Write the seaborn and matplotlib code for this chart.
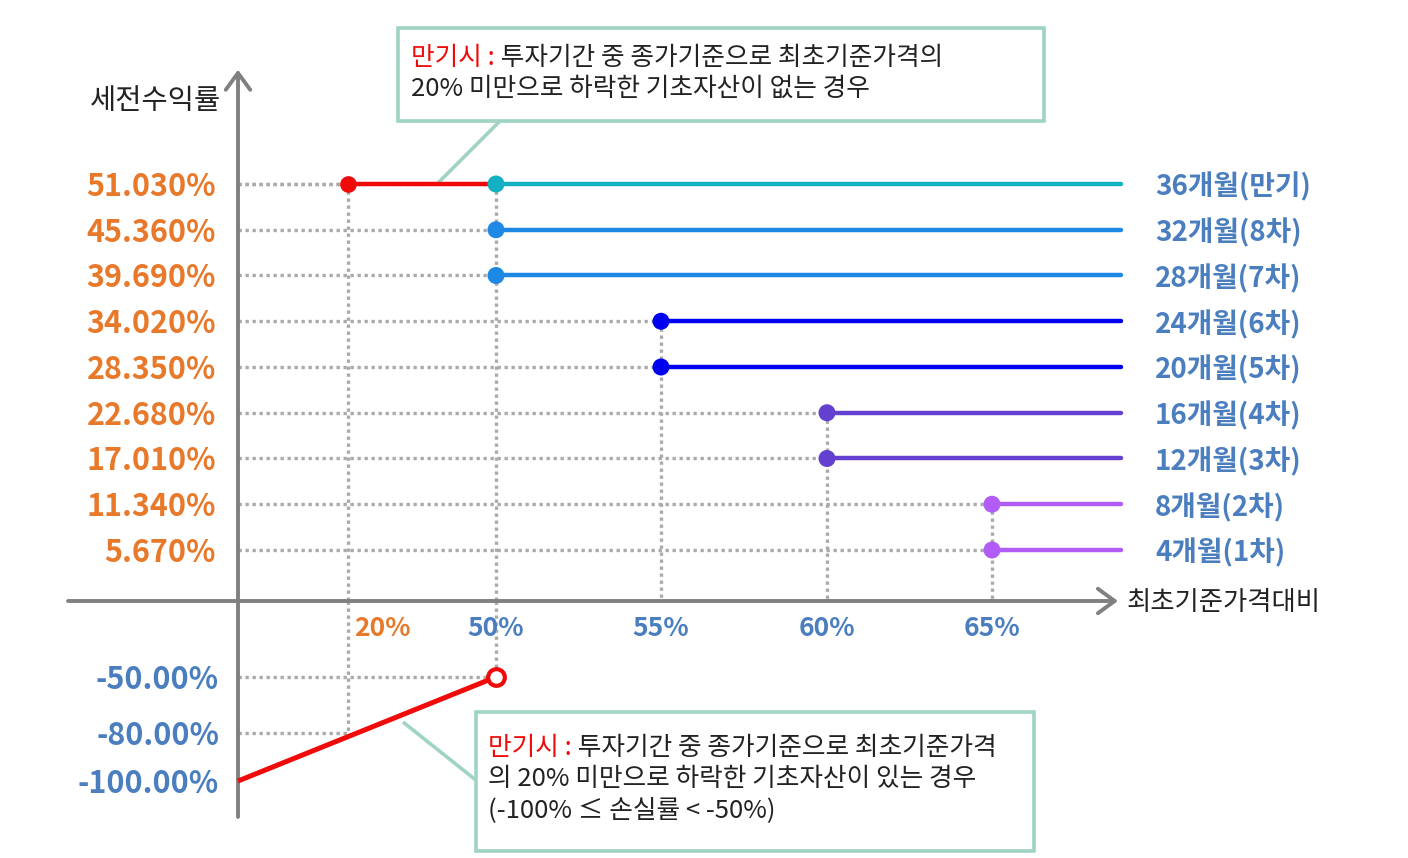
import numpy as np
import pandas as pd
import matplotlib
matplotlib.use('Agg')
import matplotlib.pyplot as plt
from matplotlib.patches import Rectangle
from matplotlib.transforms import offset_copy
import seaborn as sns

# =============================================================================
# 1. DADOS
# =============================================================================
periods = ['4개월(1차)', '8개월(2차)', '12개월(3차)', '16개월(4차)', '20개월(5차)',
           '24개월(6차)', '28개월(7차)', '32개월(8차)', '36개월(만기)']
coupons = [5.670, 11.340, 17.010, 22.680, 28.350, 34.020, 39.690, 45.360, 51.030]
barriers = [65, 65, 60, 60, 55, 55, 50, 50, 50]
line_colors = ['#b05cf5', '#b05cf5', '#6340cf', '#6340cf', '#0000f0', '#0000f0',
               '#1e88e5', '#1e88e5', '#14afc2']

ki_barrier = 20                       # 만기시 낙인 기준 (20%)
loss_x = [0, 50]                      # 손실 구간 (최초기준가격대비)
loss_y = [-100, -50]
loss_ticks = [-50, -80, -100]
loss_ticks_x = [50, 20, 0]
x_ticks = [20, 50, 55, 60, 65]
x_tick_colors = ['#e8792a', '#4a7ebf', '#4a7ebf', '#4a7ebf', '#4a7ebf']
x_end = 68.9                          # fim das linhas horizontais

# escala esquemática (não linear) do desenho original
X_PCT = [-100, 0, 20, 50, 55, 60, 65, 100]
X_PX = [-312, 238, 348, 496, 661, 827, 992, 2150]
Y_PCT = [-200, -100, -80, -50, 0, 5.67, 51.03, 200]
Y_PX = [1021, 781, 733, 677, 601, 550, 184, -1018]

W, H = 1408, 858
ORANGE = '#e8792a'
BLUE_TXT = '#4a7ebf'
RED = '#f00a0a'
GRID = '#aaaaaa'
AXIS = '#808080'
MINT = '#9fd3c4'
FONT = ['Noto Sans CJK KR', 'DejaVu Sans']


def fx(v):
    return np.interp(v, X_PCT, X_PX)


def ix(p):
    return np.interp(p, X_PX, X_PCT)


def fy(v):
    return -np.interp(v, Y_PCT, Y_PX)


def iy(s):
    return np.interp(-np.asarray(s), Y_PX[::-1], Y_PCT[::-1])


def frac(x, y):
    # pixel -> fração dos eixos (eixos ocupam a figura toda)
    return (x / W, 1 - y / H)


# =============================================================================
# 2. FIGURA
# =============================================================================
sns.set_theme(style='white')
plt.rcParams['font.family'] = FONT

fig = plt.figure(figsize=(W / 100, H / 100), dpi=100)
ax = fig.add_axes([0, 0, 1, 1])
ax.set_xscale('function', functions=(fx, ix))
ax.set_yscale('function', functions=(fy, iy))

# linhas pontilhadas de referência
dot = dict(color=GRID, lw=2.4, ls=(0, (1, 1.1)), zorder=1)
for b, c in zip(barriers + [ki_barrier], coupons + [coupons[-1]]):
    ax.plot([0, b], [c, c], **dot)
for b in sorted(set(barriers)):
    top = max(c for c, bb in zip(coupons, barriers) if bb == b)
    ax.plot([b, b], [top, 0], **dot)
ax.plot([ki_barrier, ki_barrier], [coupons[-1], 0], **dot)
for lx, ly in zip(loss_ticks_x[:2], loss_ticks[:2]):
    ax.plot([0, lx], [ly, ly], **dot)
    ax.plot([lx, lx], [0, ly], **dot)

# eixos com seta
arrow = dict(arrowstyle='->,head_length=0.55,head_width=0.4', color=AXIS, lw=2.8,
             mutation_scale=22, shrinkA=0, shrinkB=0)
ax.annotate('', xy=(0, 65.2), xytext=(0, -115), arrowprops=arrow, zorder=2)
ax.annotate('', xy=(ix(1118), 0), xytext=(ix(68), 0), arrowprops=arrow, zorder=2)

# linhas horizontais de cupom (seaborn)
seg = pd.DataFrame({
    'period': np.repeat(periods, 2),
    'x': np.ravel(np.column_stack([barriers, [x_end] * len(barriers)])),
    'y': np.repeat(coupons, 2),
})
palette = dict(zip(periods, line_colors))
sns.lineplot(data=seg, x='x', y='y', hue='period', palette=palette, linewidth=3.2,
             estimator=None, sort=False, legend=False, ax=ax, zorder=3)

# trecho vermelho do vencimento (20% ~ 50%)
ax.plot([ki_barrier, barriers[-1]], [coupons[-1], coupons[-1]], color=RED, lw=3.2,
        solid_capstyle='butt', zorder=3)
ax.plot([ki_barrier], [coupons[-1]], 'o', color=RED, ms=11, zorder=4)

sns.scatterplot(x=barriers, y=coupons, hue=periods, palette=palette, s=150,
                edgecolor='none', legend=False, ax=ax, zorder=5)

# trecho de perda
ax.plot(loss_x, loss_y, color=RED, lw=3.6, zorder=3, solid_capstyle='butt')
ax.plot([loss_x[1]], [loss_y[1]], 'o', ms=12, mfc='white', mec=RED, mew=3, zorder=5)

# rótulos do eixo y (ligeiramente abaixo da linha, como no original)
ytr = offset_copy(ax.get_yaxis_transform(), fig=fig, y=-3, units='dots')
for c in coupons:
    ax.text(216 / W, c, f'{c:.3f}%', transform=ytr, ha='right', va='center',
            color=ORANGE, fontsize=22, fontweight='bold')
for v in loss_ticks:
    ax.text(219 / W, v, f'{v:.2f}%', transform=ytr, ha='right', va='center',
            color=BLUE_TXT, fontsize=22, fontweight='bold')

# rótulos à direita
for c, p in zip(coupons, periods):
    ax.text(1155 / W, c, p, transform=ytr, ha='left', va='center',
            color=BLUE_TXT, fontsize=20, fontweight='bold')

# rótulos do eixo x
xtr = ax.get_xaxis_transform()
for t, col in zip(x_ticks, x_tick_colors):
    if t == ki_barrier:
        ax.text(ix(354), 1 - 629 / H, f'{t}%', transform=xtr, ha='left', va='center',
                color=col, fontsize=19, fontweight='bold')
    else:
        ax.text(t, 1 - 629 / H, f'{t}%', transform=xtr, ha='center', va='center',
                color=col, fontsize=19, fontweight='bold')

# títulos dos eixos
ax.text(*frac(156, 101), '세전수익률', transform=ax.transAxes, ha='center', va='center',
        color='#222222', fontsize=20.5)
ax.text(*frac(1127, 602), '최초기준가격대비', transform=ax.transAxes, ha='left',
        va='center', color='#222222', fontsize=19)


# =============================================================================
# 3. CAIXAS DE ANOTAÇÃO
# =============================================================================
def caixa(x0, y0, x1, y1, linhas, x_txt, y_txt, passo):
    ax.add_patch(Rectangle(frac(x0, y1), (x1 - x0) / W, (y1 - y0) / H,
                           transform=ax.transAxes, facecolor='white', edgecolor=MINT,
                           lw=2.6, zorder=6))
    for i, linha in enumerate(linhas):
        pos = frac(x_txt, y_txt + i * passo)
        if i == 0:
            t1 = ax.text(*pos, '만기시 :', transform=ax.transAxes, color=RED,
                         fontsize=18.5, ha='left', va='center', zorder=7)
            ax.annotate(' ' + linha, xy=(1, 0), xycoords=t1, ha='left', va='bottom',
                        color='#222222', fontsize=18.5, zorder=7)
        else:
            ax.text(*pos, linha, transform=ax.transAxes, color='#222222', fontsize=18.5,
                    ha='left', va='center', zorder=7)


conn = dict(color=MINT, lw=2.6, zorder=2, solid_capstyle='butt')
ax.plot([ix(437), ix(500)], [coupons[-1], iy(-121)], **conn)
caixa(398, 28, 1044, 121,
      ['투자기간 중 종가기준으로 최초기준가격의', '20% 미만으로 하락한 기초자산이 없는 경우'],
      411, 58, 31)

ax.plot([ix(403), ix(477)], [iy(-722), iy(-781)], **conn)
caixa(476, 712, 1034, 851,
      ['투자기간 중 종가기준으로 최초기준가격', '의 20% 미만으로 하락한 기초자산이 있는 경우',
       '(-100% ≤ 손실률 < -50%)'],
      488, 748, 31)

ax.set_xlim(ix(0), ix(W))
ax.set_ylim(iy(-H), iy(0))
ax.axis('off')

fig.savefig('out.png', dpi=100, facecolor='white')
plt.close(fig)
